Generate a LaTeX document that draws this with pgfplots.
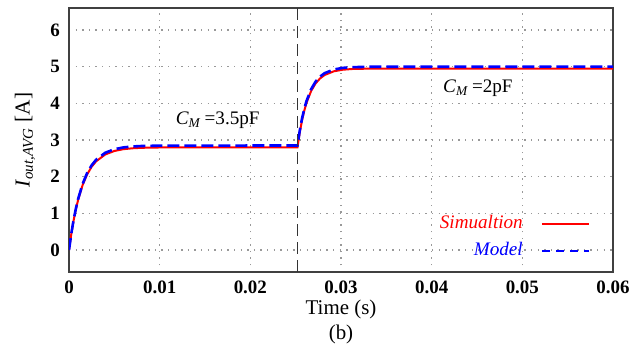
\documentclass[border=0pt]{standalone}
\usepackage{fontspec}
\setmainfont{Liberation Serif}
\usepackage{pgfplots}
\pgfplotsset{compat=1.18}
\begin{document}
\begin{tikzpicture}
\begin{axis}[
  scale only axis, width=272bp, height=132bp,
  xmin=0, xmax=0.06, ymin=-0.6, ymax=6.6,
  xtick={0,0.01,0.02,0.03,0.04,0.05,0.06},
  xticklabels={0,0.01,0.02,0.03,0.04,0.05,0.06},
  ytick={0,1,2,3,4,5,6},
  scaled x ticks=false,
  /pgf/number format/assume math mode=true,
  tick label style={font=\bfseries\fontsize{9.5}{10}\selectfont},
  yticklabel style={xshift=-1bp},
  xticklabel style={yshift=-1bp},
  major tick length=0pt,
  grid=major,
  grid style={gray!80, line width=0.6bp, dash pattern=on 0.7bp off 2.6bp},
  axis line style={black!75, line width=0.9bp},
  ylabel={\textit{I}\textsubscript{\textit{out,AVG}} [A]},
  ylabel style={font=\fontsize{10.7}{12}\selectfont, at={(axis description cs:-0.081,0.5)}, anchor=center},
  legend style={draw=none, fill=none, font=\fontsize{9.6}{11}\selectfont,
    at={(axis description cs:0.969,0.246)}, anchor=north east, row sep=1.5bp,
    /tikz/every odd column/.append style={column sep=7bp}},
  legend cell align=right,
  legend plot pos=right,
  clip=true,
]
\addplot[red, line width=1.0bp,
  legend image code/.code={\draw[red, line width=1bp] (0bp,0bp) -- (23.5bp,0bp);}] coordinates {
(0,0) (0.00025,0.430) (0.0005,0.794) (0.00075,1.102) (0.001,1.362) (0.0015,1.770)
(0.002,2.062) (0.0025,2.271) (0.003,2.421) (0.004,2.605) (0.005,2.700) (0.006,2.749)
(0.007,2.774) (0.008,2.787) (0.01,2.796) (0.0252,2.8)
(0.02545,3.204) (0.0257,3.533) (0.02595,3.799) (0.0262,4.016) (0.0267,4.334)
(0.0272,4.544) (0.0277,4.682) (0.0282,4.773) (0.0292,4.873) (0.0302,4.917)
(0.0312,4.936) (0.0332,4.947) (0.06,4.95)
};
\addlegendentry{\textcolor{red}{\textit{Simualtion}}}
\addplot[blue, line width=1.3bp, dash pattern=on 6bp off 2.5bp,
  legend image code/.code={\draw[blue, line width=1bp, dash pattern=on 4.2bp off 2.8bp] (0bp,0bp) -- (23.5bp,0bp);}] coordinates {
(0,0) (0.00025,0.437) (0.0005,0.808) (0.00075,1.121) (0.001,1.387) (0.0015,1.801)
(0.002,2.099) (0.0025,2.312) (0.003,2.464) (0.004,2.652) (0.005,2.748) (0.006,2.798)
(0.007,2.823) (0.008,2.836) (0.01,2.846) (0.0252,2.85)
(0.02545,3.254) (0.0257,3.583) (0.02595,3.849) (0.0262,4.066) (0.0267,4.384)
(0.0272,4.594) (0.0277,4.732) (0.0282,4.823) (0.0292,4.923) (0.0302,4.967)
(0.0312,4.986) (0.0332,4.997) (0.06,5.0)
};
\addlegendentry{\textcolor{blue}{\textit{Model}}}
\addplot[black!80, line width=0.7bp, dash pattern=on 6bp off 3bp, forget plot] coordinates {(0.0252,-0.6) (0.0252,6.6)};
\node[font=\fontsize{9.6}{11}\selectfont] at (axis cs:0.0164,3.55) {\textit{C}\textsubscript{\textit{M}}\,=3.5pF};
\node[font=\fontsize{9.6}{11}\selectfont] at (axis cs:0.0451,4.42) {\textit{C}\textsubscript{\textit{M}}\,=2pF};
\end{axis}
\node[font=\fontsize{10.5}{12}\selectfont, anchor=base] at ([yshift=-21.5bp]current axis.south) {Time (s)};
\node[font=\fontsize{10.5}{12}\selectfont, anchor=base] at ([yshift=-34bp]current axis.south) {(b)};
\path ([shift={(-34.5bp,-39bp)}]current axis.south west) rectangle ([shift={(13bp,4bp)}]current axis.north east);
\end{tikzpicture}
\end{document}
